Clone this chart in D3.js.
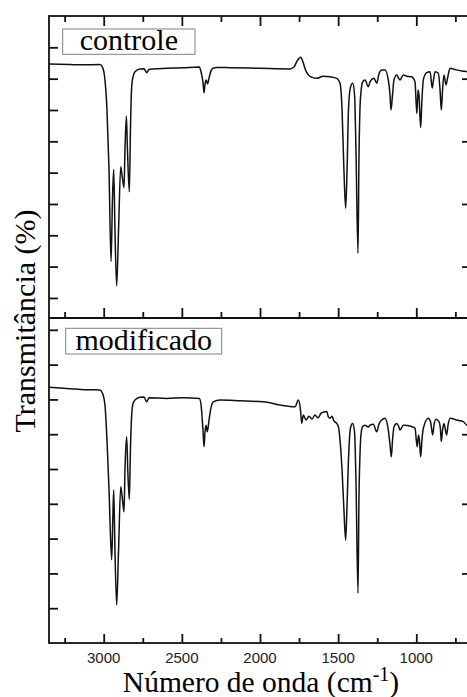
<!DOCTYPE html>
<html>
<head>
<meta charset="utf-8">
<script src="https://cdn.jsdelivr.net/npm/d3@7"></script>
<style>
  html, body { margin: 0; padding: 0; background: #fff; }
  svg { display: block; }
  .serif { font-family: "Liberation Serif", "Times New Roman", Times, "DejaVu Serif", serif; }
  .sans { font-family: "Liberation Sans", Arial, Helvetica, sans-serif; }
</style>
</head>
<body>
<div id="chart"></div>
<script>
// FTIR spectra (transmittance, arbitrary offset per panel) vs wavenumber (cm-1)
const controleWavenumber = [3350,3216,3120,3024,3008,2992,2979,2966,2953,2944,2936,2928,2917,2905,2891,2883,2870,2864,2855,2848,2836,2829,2821,2813,2800,2768,2742,2725,2710,2683,2597,2491,2388,2377,2365,2358,2352,2344,2336,2326,2314,2299,2275,2192,2000,1808,1783,1763,1740,1725,1709,1691,1667,1637,1595,1552,1509,1488,1475,1463,1452,1443,1434,1421,1407,1395,1386,1373,1367,1360,1354,1343,1328,1307,1296,1271,1253,1239,1221,1200,1179,1168,1162,1152,1143,1125,1114,1104,1083,1060,1030,1008,1002,996,989,983,972,964,955,934,912,898,890,880,859,848,840,832,823,810,800,784,742,699,676,650];
const controleT = [84.7,84.5,84.4,84.5,83.7,79.6,70.0,50.8,21.6,41.3,51.0,31.7,13.9,31.7,51.9,49.3,45.2,57.2,68.1,57.2,43.9,63.6,77.4,80.5,82.2,83.1,83.2,81.9,82.9,83.1,83.3,83.5,83.7,82.1,78.9,75.5,78.3,79.6,78.3,80.2,82.4,83.4,83.6,83.5,83.3,83.1,83.7,85.6,86.8,85.3,82.8,81.2,80.4,80.1,80.8,80.6,80.1,78.5,70.0,50.8,38.6,50.8,70.0,77.3,78.5,74.8,57.2,24.3,54.0,71.0,75.7,79.0,79.6,77.4,79.0,80.1,78.5,81.5,82.8,82.8,79.6,74.8,70.0,74.8,79.6,81.2,80.2,79.6,81.2,80.8,80.6,78.9,73.2,68.9,76.4,74.8,64.4,73.2,79.6,81.9,82.2,77.0,79.6,82.2,81.7,76.4,70.0,76.4,81.2,78.0,80.2,83.3,82.8,82.4,82.2,82.1];

const modificadoWavenumber = [3350,3216,3120,3024,3008,2992,2979,2966,2949,2942,2936,2928,2917,2905,2891,2883,2870,2864,2853,2846,2836,2829,2821,2813,2800,2768,2742,2725,2710,2597,2491,2388,2377,2365,2358,2352,2345,2337,2326,2314,2299,2256,2128,1979,1872,1776,1755,1741,1733,1723,1706,1687,1667,1648,1629,1610,1591,1573,1562,1552,1539,1527,1509,1498,1488,1475,1463,1452,1443,1434,1421,1407,1395,1386,1373,1367,1360,1354,1343,1328,1307,1296,1275,1253,1239,1221,1200,1179,1168,1160,1152,1143,1125,1114,1104,1083,1030,1008,1000,994,986,980,972,964,955,923,909,895,887,874,855,845,840,832,823,806,797,784,742,699,676,650];
const modificadoT = [73.5,73.1,72.8,72.7,71.8,68.4,58.3,44.0,23.9,35.3,44.0,26.7,10.9,26.7,44.9,42.5,37.7,49.7,59.3,49.7,41.3,55.5,65.5,68.7,69.8,70.6,70.7,69.3,70.5,70.3,70.5,70.3,68.4,61.2,56.4,60.6,62.6,60.7,64.1,67.5,69.3,69.8,69.6,69.3,68.4,67.9,69.8,67.0,63.1,65.5,64.1,65.2,64.4,65.5,64.7,66.0,66.4,66.5,64.9,64.6,65.2,63.8,63.1,62.1,58.3,49.7,38.2,29.6,39.7,52.6,61.8,63.1,60.6,46.8,14.3,41.1,54.5,59.8,62.2,62.6,62.1,62.6,62.9,60.7,62.9,64.1,64.6,61.2,56.9,53.5,58.3,62.1,63.1,62.4,61.2,62.6,62.2,61.7,58.3,56.4,59.8,58.3,53.5,58.3,61.7,64.6,63.6,59.8,62.6,64.3,63.6,61.2,57.9,61.2,63.1,59.8,62.6,64.6,64.1,63.6,62.6,62.4];

const panelLabels = ["controle", "modificado"];
const xMajorTicks = [3000, 2500, 2000, 1500, 1000];
const xMinorTicks = [3250, 2750, 2250, 1750, 1250, 750];
const xTickLabels = ["3000", "2500", "2000", "1500", "1000"];
const yTicks = [10, 20, 30, 40, 50, 60, 70, 80, 90];

const W = 467, H = 697;
const plotLeft = 49, plotRight = 471, plotTop = 16, plotMid = 318, plotBottom = 643;

const svg = d3.select("#chart").append("svg")
  .attr("width", W).attr("height", H)
  .attr("viewBox", `0 0 ${W} ${H}`);

const x = d3.scaleLinear().domain([3350, 650]).range([plotLeft, plotRight]);

const panels = [
  { wn: controleWavenumber, t: controleT, label: panelLabels[0],
    y: d3.scaleLinear().domain([3.6, 100]).range([plotMid, plotTop]),
    y0: plotTop, y1: plotMid, box: { x: 62.7, y: 29, w: 132.3, h: 25.3 }, topTicks: true },
  { wn: modificadoWavenumber, t: modificadoT, label: panelLabels[1],
    y: d3.scaleLinear().domain([0, 93.4]).range([plotBottom, plotMid]),
    y0: plotMid, y1: plotBottom, box: { x: 65.7, y: 328.3, w: 156, h: 25.7 }, topTicks: false }
];

svg.append("defs").append("clipPath").attr("id", "plotClip")
  .append("rect").attr("x", plotLeft).attr("y", plotTop)
  .attr("width", plotRight - plotLeft).attr("height", plotBottom - plotTop);

const tickStyle = sel => {
  sel.select(".domain").remove();
  sel.selectAll("line").attr("stroke", "#111").attr("stroke-width", 1.8);
  sel.selectAll("text").remove();
};

panels.forEach((p, i) => {
  const g = svg.append("g");

  // spectrum line
  const pts = p.wn.map((w, k) => [w, p.t[k]]).sort((a, b) => a[0] - b[0]);
  const line = d3.line().x(d => x(d[0])).y(d => p.y(d[1])).curve(d3.curveMonotoneX);
  g.append("path")
    .datum(pts)
    .attr("clip-path", "url(#plotClip)")
    .attr("fill", "none")
    .attr("stroke", "#111")
    .attr("stroke-width", 1.5)
    .attr("stroke-linejoin", "round")
    .attr("d", line);

  // x ticks pointing into the panel
  if (p.topTicks) {
    g.append("g").attr("transform", `translate(0,${p.y0})`)
      .call(d3.axisTop(x).tickValues(xMajorTicks).tickSizeInner(-10).tickSizeOuter(0)).call(tickStyle);
    g.append("g").attr("transform", `translate(0,${p.y0})`)
      .call(d3.axisTop(x).tickValues(xMinorTicks).tickSizeInner(-6).tickSizeOuter(0)).call(tickStyle);
  }
  const majLen = i === 0 ? 10 : 9, minLen = i === 0 ? 6 : 5;
  g.append("g").attr("transform", `translate(0,${p.y1})`)
    .call(d3.axisBottom(x).tickValues(xMajorTicks).tickSizeInner(-majLen).tickSizeOuter(0)).call(tickStyle);
  g.append("g").attr("transform", `translate(0,${p.y1})`)
    .call(d3.axisBottom(x).tickValues(xMinorTicks).tickSizeInner(-minLen).tickSizeOuter(0)).call(tickStyle);

  // y ticks: left all equal, right alternating major/minor
  g.append("g").attr("transform", `translate(${plotLeft},0)`)
    .call(d3.axisLeft(p.y).tickValues(yTicks).tickSizeInner(-9).tickSizeOuter(0)).call(tickStyle);
  g.append("g").attr("transform", `translate(${plotRight},0)`)
    .call(d3.axisRight(p.y).tickValues(yTicks.filter(v => v % 20 === 0)).tickSizeInner(-9).tickSizeOuter(0)).call(tickStyle);
  g.append("g").attr("transform", `translate(${plotRight},0)`)
    .call(d3.axisRight(p.y).tickValues(yTicks.filter(v => v % 20 !== 0)).tickSizeInner(-4).tickSizeOuter(0)).call(tickStyle);

  // label box
  g.append("rect")
    .attr("x", p.box.x).attr("y", p.box.y)
    .attr("width", p.box.w).attr("height", p.box.h)
    .attr("fill", "#fff").attr("stroke", "#808080").attr("stroke-width", 1);
  g.append("text")
    .attr("class", "serif")
    .attr("x", p.box.x + p.box.w / 2)
    .attr("y", p.box.y + p.box.h - 4.5)
    .attr("text-anchor", "middle")
    .attr("font-size", 30)
    .attr("fill", "#000")
    .text(p.label);
});

// frame
svg.append("rect")
  .attr("x", plotLeft).attr("y", plotTop)
  .attr("width", plotRight - plotLeft).attr("height", plotBottom - plotTop)
  .attr("fill", "none").attr("stroke", "#111").attr("stroke-width", 1.8);
svg.append("line")
  .attr("x1", plotLeft).attr("x2", plotRight).attr("y1", plotMid).attr("y2", plotMid)
  .attr("stroke", "#111").attr("stroke-width", 1.8);

// x tick labels
svg.append("g").selectAll("text")
  .data(xMajorTicks)
  .join("text")
  .attr("class", "sans")
  .attr("x", d => x(d))
  .attr("y", 662.5)
  .attr("text-anchor", "middle")
  .attr("font-size", 15)
  .attr("fill", "#222")
  .text((d, i) => xTickLabels[i]);

// axis titles
const xTitle = svg.append("text")
  .attr("class", "serif")
  .attr("x", (plotLeft + plotRight) / 2 + 1)
  .attr("y", 692)
  .attr("text-anchor", "middle")
  .attr("font-size", 29.5)
  .attr("fill", "#000");
xTitle.append("tspan").text("Número de onda (cm");
xTitle.append("tspan").attr("font-size", 20).attr("dy", -11).text("-1");
xTitle.append("tspan").attr("dy", 11).text(")");

svg.append("text")
  .attr("class", "serif")
  .attr("transform", "translate(34.5,321) rotate(-90)")
  .attr("text-anchor", "middle")
  .attr("font-size", 30)
  .attr("fill", "#000")
  .text("Transmitância (%)");
</script>
</body>
</html>
